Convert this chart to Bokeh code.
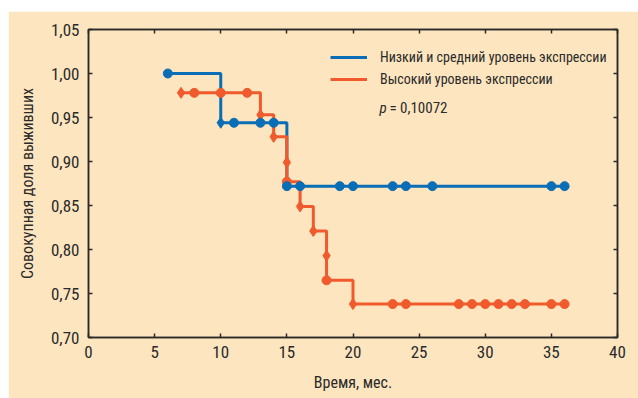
from bokeh.plotting import figure
from bokeh.models import (Range1d, FixedTicker, LinearAxis, Legend, LegendItem, Label, Spacer)
from bokeh.layouts import column, row
from bokeh.embed import file_html
from bokeh.resources import INLINE

# ---- data ----
blue_name = "Низкий и средний уровень экспрессии"
red_name = "Высокий уровень экспрессии"
p_text = "= 0,10072"

# step curves (time, survival) – value holds until next time
blue_step_t = [6, 10, 15, 36]
blue_step_s = [1.000, 0.944, 0.872, 0.872]
red_step_t = [7, 13, 14, 15, 16, 17, 18, 20, 36]
red_step_s = [0.978, 0.953, 0.928, 0.877, 0.849, 0.821, 0.765, 0.738, 0.738]

# censored (circle) markers
blue_cens_t = [6, 11, 13, 14, 15, 16, 19, 20, 23, 24, 26, 35, 36]
blue_cens_s = [1.000, 0.944, 0.944, 0.944, 0.872, 0.872, 0.872, 0.872, 0.872, 0.872, 0.872, 0.872, 0.872]
red_cens_t = [8, 10, 12, 15, 18, 23, 24, 28, 29, 30, 31, 32, 33, 35, 36]
red_cens_s = [0.978, 0.978, 0.978, 0.877, 0.765, 0.738, 0.738, 0.738, 0.738, 0.738, 0.738, 0.738, 0.738, 0.738, 0.738]

# event (diamond) markers
blue_evt_t = [10]
blue_evt_s = [0.944]
red_evt_t = [7, 13, 14, 15, 16, 17, 18, 20]
red_evt_s = [0.978, 0.953, 0.928, 0.899, 0.849, 0.821, 0.793, 0.738]

x_ticks = [0, 5, 10, 15, 20, 25, 30, 35, 40]
x_labels = ["0", "5", "10", "15", "20", "25", "30", "35", "40"]
y_ticks = [0.70, 0.75, 0.80, 0.85, 0.90, 0.95, 1.00, 1.05]
y_labels = ["0,70", "0,75", "0,80", "0,85", "0,90", "0,95", "1,00", "1,05"]

x_title = "Время, мес."
y_title = "Совокупная доля выживших"

# ---- styling ----
BG = "#FDE6BF"
BLUE = "#0A6EB6"
RED = "#F05A2C"
INK = "#2A2A2A"
FONT = "Roboto Condensed, Roboto"

p = figure(width=630, height=387, output_backend="svg", toolbar_location=None,
           x_range=Range1d(0, 40), y_range=Range1d(0.70, 1.05),
           min_border_left=80, min_border_right=21, min_border_top=18, min_border_bottom=61,
           background_fill_color=BG, border_fill_color=BG,
           outline_line_color=INK, outline_line_width=1.5)
p.grid.visible = False
p.axis.visible = False

def style_axis(ax, ticks, labels, show_labels=True):
    ax.ticker = FixedTicker(ticks=ticks)
    if show_labels:
        ax.major_label_overrides = {t: l for t, l in zip(ticks, labels)}
    else:
        ax.major_label_overrides = {t: "" for t in ticks}
    ax.axis_line_color = INK
    ax.axis_line_width = 1.5
    ax.major_tick_line_color = INK
    ax.major_tick_line_width = 1.5
    ax.major_tick_in = 4
    ax.major_tick_out = 0
    ax.minor_tick_line_color = None
    ax.major_label_text_font = FONT
    ax.major_label_text_font_size = "17px"
    ax.major_label_text_color = INK
    ax.axis_label_text_font = FONT
    ax.axis_label_text_font_size = "16px"
    ax.axis_label_text_font_style = "normal"
    ax.axis_label_text_color = INK

xb = LinearAxis()
style_axis(xb, x_ticks, x_labels)
xb.axis_label = x_title
xb.major_label_standoff = 8
xb.axis_label_standoff = 12
p.add_layout(xb, "below")

yl = LinearAxis()
style_axis(yl, y_ticks, y_labels)
yl.axis_label = y_title
yl.major_label_standoff = 9
yl.axis_label_standoff = 11
p.add_layout(yl, "left")

xt = LinearAxis()
style_axis(xt, x_ticks, x_labels, show_labels=False)
xt.major_label_standoff = 0
p.add_layout(xt, "above")

yr = LinearAxis()
style_axis(yr, y_ticks, y_labels, show_labels=False)
yr.major_label_standoff = 0
p.add_layout(yr, "right")

# curves
bl = p.step(blue_step_t, blue_step_s, mode="after", line_color=BLUE, line_width=3)
rl = p.step(red_step_t, red_step_s, mode="after", line_color=RED, line_width=3)

p.scatter(red_evt_t, red_evt_s, marker="diamond", size=11, color=RED)
p.scatter(red_cens_t, red_cens_s, marker="circle", size=9, color=RED)
p.scatter(blue_evt_t, blue_evt_s, marker="diamond", size=11, color=BLUE)
p.scatter(blue_cens_t, blue_cens_s, marker="circle", size=9, color=BLUE)

legend = Legend(items=[LegendItem(label=blue_name, renderers=[bl]),
                       LegendItem(label=red_name, renderers=[rl])],
                location=(242, 247), margin=0, padding=8,
                label_text_font=FONT, label_text_font_size="14px", label_text_color=INK,
                glyph_width=37, glyph_height=22, label_height=22, spacing=0,
                label_standoff=13,
                background_fill_alpha=0, border_line_color=None)
p.add_layout(legend)

p.add_layout(Label(x=22.0, y=0.961, text="p", text_font=FONT, text_font_size="15px",
                   text_font_style="italic", text_color=INK, text_baseline="middle"))
p.add_layout(Label(x=22.0, y=0.961, x_offset=10, text=p_text, text_font=FONT,
                   text_font_size="15px", text_color=INK, text_baseline="middle"))

page = column(Spacer(height=11), row(Spacer(width=8), p))
open("out.html", "w").write(file_html(page, INLINE))
